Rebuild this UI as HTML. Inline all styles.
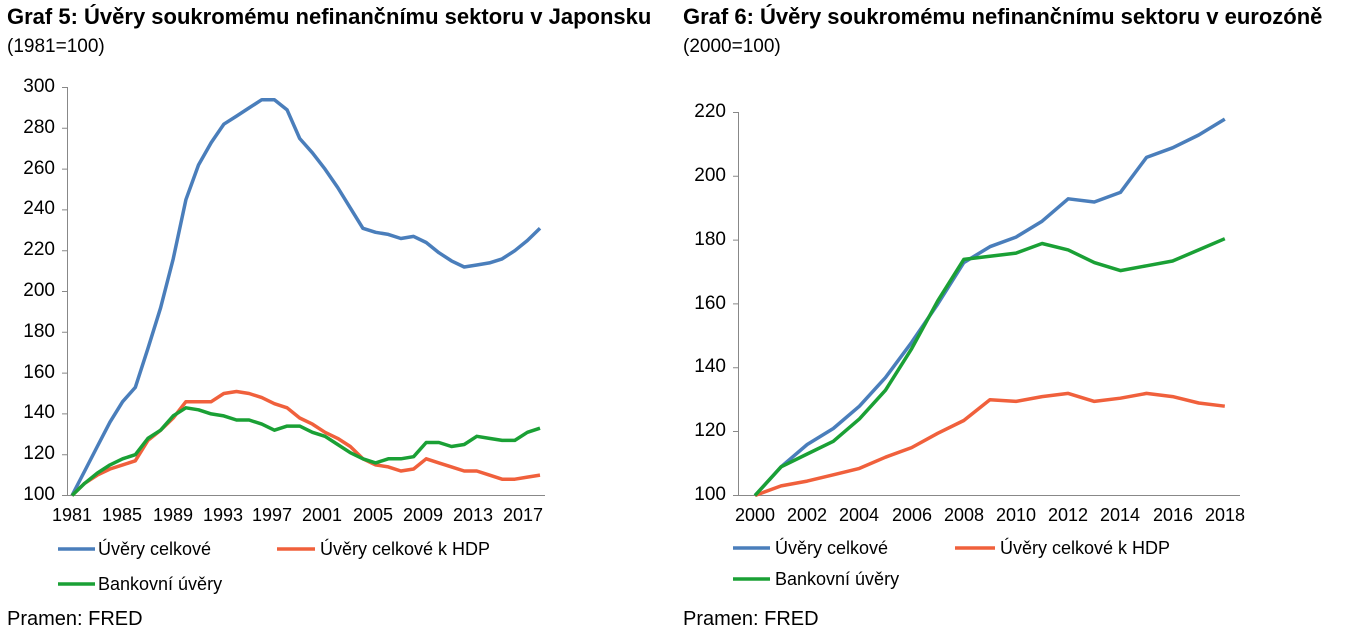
<!DOCTYPE html>
<html><head><meta charset="utf-8"><style>
body{margin:0;width:1348px;height:639px;background:#fff;position:relative;overflow:hidden;font-family:"Liberation Sans",Arial,sans-serif;color:#000}
.t{position:absolute;white-space:nowrap}
.h{font-weight:bold;font-size:22px}
.s{font-size:19px}
.lg{font-size:18px}
.yl{position:absolute;font-size:19px;text-align:right;width:50px}
.xl{position:absolute;font-size:18px;width:60px;text-align:center}
svg{position:absolute;left:0;top:0}
</style></head><body>
<div class="t h" style="left:7px;top:4px">Graf 5: Úvěry soukromému nefinančnímu sektoru v Japonsku</div>
<div class="t s" style="left:7px;top:36px">(1981=100)</div>
<div class="t h" style="left:683px;top:4px">Graf 6: Úvěry soukromému nefinančnímu sektoru v eurozóně</div>
<div class="t s" style="left:683px;top:36px">(2000=100)</div>

<div class="yl" style="left:5px;top:76px">300</div>
<div class="yl" style="left:5px;top:117px">280</div>
<div class="yl" style="left:5px;top:158px">260</div>
<div class="yl" style="left:5px;top:198px">240</div>
<div class="yl" style="left:5px;top:239px">220</div>
<div class="yl" style="left:5px;top:280px">200</div>
<div class="yl" style="left:5px;top:321px">180</div>
<div class="yl" style="left:5px;top:362px">160</div>
<div class="yl" style="left:5px;top:402px">140</div>
<div class="yl" style="left:5px;top:443px">120</div>
<div class="yl" style="left:5px;top:484px">100</div>

<div class="xl" style="left:42px;top:505px">1981</div>
<div class="xl" style="left:92px;top:505px">1985</div>
<div class="xl" style="left:143px;top:505px">1989</div>
<div class="xl" style="left:193px;top:505px">1993</div>
<div class="xl" style="left:242px;top:505px">1997</div>
<div class="xl" style="left:292px;top:505px">2001</div>
<div class="xl" style="left:343px;top:505px">2005</div>
<div class="xl" style="left:393px;top:505px">2009</div>
<div class="xl" style="left:443px;top:505px">2013</div>
<div class="xl" style="left:493px;top:505px">2017</div>

<div class="yl" style="left:676px;top:101px">220</div>
<div class="yl" style="left:676px;top:165px">200</div>
<div class="yl" style="left:676px;top:229px">180</div>
<div class="yl" style="left:676px;top:293px">160</div>
<div class="yl" style="left:676px;top:356px">140</div>
<div class="yl" style="left:676px;top:420px">120</div>
<div class="yl" style="left:676px;top:484px">100</div>

<div class="xl" style="left:725px;top:505px">2000</div>
<div class="xl" style="left:777px;top:505px">2002</div>
<div class="xl" style="left:829px;top:505px">2004</div>
<div class="xl" style="left:882px;top:505px">2006</div>
<div class="xl" style="left:934px;top:505px">2008</div>
<div class="xl" style="left:986px;top:505px">2010</div>
<div class="xl" style="left:1038px;top:505px">2012</div>
<div class="xl" style="left:1090px;top:505px">2014</div>
<div class="xl" style="left:1143px;top:505px">2016</div>
<div class="xl" style="left:1195px;top:505px">2018</div>

<div class="t lg" style="left:98px;top:539px">Úvěry celkové</div>
<div class="t lg" style="left:320px;top:539px">Úvěry celkové k HDP</div>
<div class="t lg" style="left:98px;top:574px">Bankovní úvěry</div>
<div class="t lg" style="left:775px;top:538px">Úvěry celkové</div>
<div class="t lg" style="left:1000px;top:538px">Úvěry celkové k HDP</div>
<div class="t lg" style="left:775px;top:569px">Bankovní úvěry</div>
<div class="t" style="left:7px;top:608px;font-size:20px">Pramen: FRED</div>
<div class="t" style="left:683px;top:608px;font-size:20px">Pramen: FRED</div>

<svg id="g" width="1348" height="639" xmlns="http://www.w3.org/2000/svg">
<g stroke="#888" stroke-width="1" fill="none">
<path d="M67.5 87V495.5H545"/>
<path d="M62 87.5h5.5M62 128.3h5.5M62 169.1h5.5M62 209.9h5.5M62 250.7h5.5M62 291.5h5.5M62 332.3h5.5M62 373.1h5.5M62 413.9h5.5M62 454.7h5.5M62 495.5h5.5"/>
<path d="M738.5 112V495.5H1240"/>
<path d="M733 112.5h5.5M733 176.3h5.5M733 240.1h5.5M733 303.9h5.5M733 367.7h5.5M733 431.5h5.5M733 495.5h5.5"/>
</g>
<g stroke-width="3.5">
<path stroke="#4a7ebb" d="M58 549h37"/><path stroke="#f0603c" d="M277 549h38"/><path stroke="#1aa035" d="M58 584h37"/>
<path stroke="#4a7ebb" d="M733 548h37"/><path stroke="#f0603c" d="M955 548h40"/><path stroke="#1aa035" d="M733 579h37"/>
</g>
</svg>
<script>
var J={b:[100,112,124,136,146,153,172,192,216,245,262,273,282,286,290,294,294,289,275,268,260,251,241,231,229,228,226,227,224,219,215,212,213,214,216,220,225,231],
r:[100,106,110,113,115,117,127,132,138,146,146,146,150,151,150,148,145,143,138,135,131,128,124,118,115,114,112,113,118,116,114,112,112,110,108,108,109,110],
g:[100,106,111,115,118,120,128,132,139,143,142,140,139,137,137,135,132,134,134,131,129,125,121,118,116,118,118,119,126,126,124,125,129,128,127,127,131,133]};
var E={b:[100,109,116,121,128,137,148,160,173,178,181,186,193,192,195,206,209,213,218],
g:[100,109,113,117,124,133,146,161,174,175,176,179,177,173,170.5,172,173.5,177,180.5],
r:[100,103,104.5,106.5,108.5,112,115,119.5,123.5,130,129.5,131,132,129.5,130.5,132,131,129,128]};
var C={b:"#4a7ebb",r:"#f0603c",g:"#1aa035"},svg=document.getElementById('g'),ns="http://www.w3.org/2000/svg";
function draw(D,x0,dx,ypx,order){order.forEach(function(k){var p=D[k].map(function(v,i){return (x0+i*dx).toFixed(1)+","+(495.5-(v-100)*ypx).toFixed(1)}).join(" ");
var l=document.createElementNS(ns,"polyline");l.setAttribute("points",p);l.setAttribute("fill","none");l.setAttribute("stroke",C[k]);l.setAttribute("stroke-width","3.5");l.setAttribute("stroke-linejoin","round");svg.appendChild(l);});}
draw(J,72,12.65,2.04,["b","r","g"]);
draw(E,755,26.1,3.19,["b","r","g"]);
</script>
</body></html>
